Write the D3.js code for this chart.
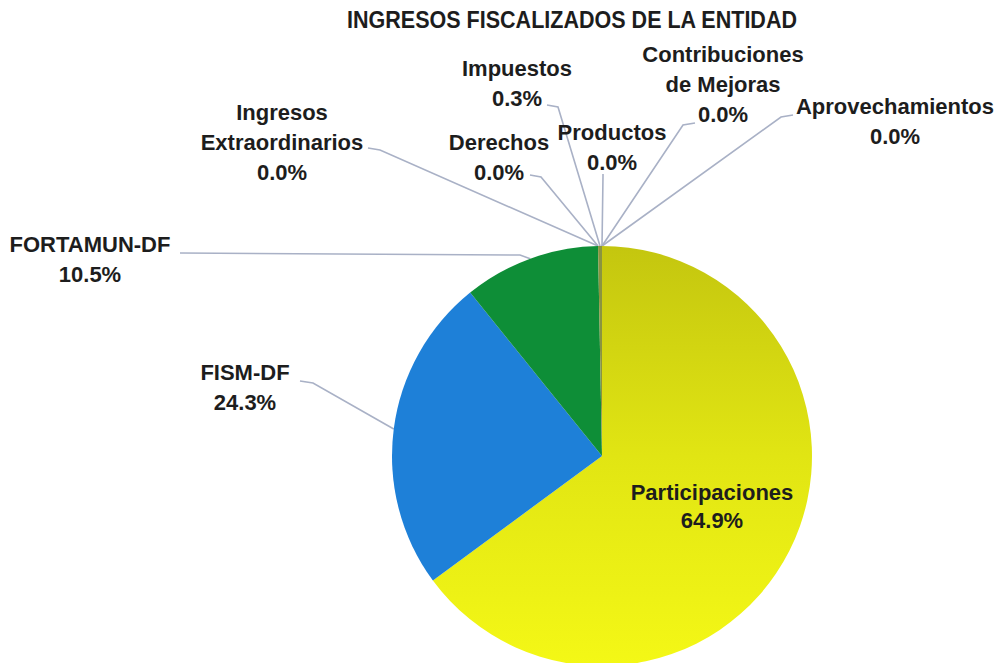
<!DOCTYPE html>
<html>
<head>
<meta charset="utf-8">
<script src="https://cdn.jsdelivr.net/npm/d3@7"></script>
<style>
  html, body { margin: 0; padding: 0; background: #ffffff; }
  svg { display: block; }
</style>
</head>
<body>
<svg id="chart" width="996" height="663"></svg>
<script>
// ---- data ----
const title = "INGRESOS FISCALIZADOS DE LA ENTIDAD";
const categories = ["Participaciones", "FISM-DF", "FORTAMUN-DF", "Ingresos Extraordinarios",
  "Derechos", "Impuestos", "Productos", "Contribuciones de Mejoras", "Aprovechamientos"];
const values = [64.9, 24.3, 10.5, 0.0, 0.0, 0.3, 0.0, 0.0, 0.0];
const labelLines = [["Participaciones"], ["FISM-DF"], ["FORTAMUN-DF"], ["Ingresos", "Extraordinarios"],
  ["Derechos"], ["Impuestos"], ["Productos"], ["Contribuciones", "de Mejoras"], ["Aprovechamientos"]];

// ---- layout / style ----
const W = 996, H = 663;
const cx = 602, cy = 456, R = 210;
const colors = {
  "Participaciones": "url(#yellowGrad)",
  "FISM-DF": "#1e80d8",
  "FORTAMUN-DF": "#0e8e37",
  "Impuestos": "#8a9440"
};
const labelLayout = {
  "Participaciones": { x: 712, y: 500, inside: true },
  "FISM-DF": { x: 245, y: 380, sx: 300, sy: 381, ex: 313, ey: 383 },
  "FORTAMUN-DF": { x: 90, y: 252, sx: 180, sy: 253, ex: 520, ey: 255 },
  "Ingresos Extraordinarios": { x: 282, y: 120, sx: 368, sy: 148, ex: 380, ey: 150 },
  "Derechos": { x: 499, y: 150, sx: 530, sy: 175, ex: 541, ey: 177 },
  "Impuestos": { x: 517, y: 76, sx: 547, sy: 105, ex: 558, ey: 107 },
  "Productos": { x: 612, y: 140, sx: 603, sy: 174, ex: 603, ey: 176 },
  "Contribuciones de Mejoras": { x: 723, y: 62, sx: 695, sy: 123, ex: 683, ey: 125 },
  "Aprovechamientos": { x: 895, y: 114, sx: 793, sy: 115, ex: 781, ey: 117 }
};
const lineGap = 30;
const fontFamily = "'Liberation Sans', Arial, Helvetica, sans-serif";
const textColor = "#1d1d1d";
const leaderColor = "#a9b1c6";

const svg = d3.select("#chart");
const defs = svg.append("defs");
const grad = defs.append("linearGradient")
  .attr("id", "yellowGrad")
  .attr("gradientUnits", "userSpaceOnUse")
  .attr("x1", 0).attr("y1", -R).attr("x2", 0).attr("y2", R);
grad.append("stop").attr("offset", 0).attr("stop-color", "#c4c60f");
grad.append("stop").attr("offset", 0.5).attr("stop-color", "#e1e513");
grad.append("stop").attr("offset", 1).attr("stop-color", "#f4f816");

// title
svg.append("text")
  .attr("x", 572).attr("y", 28)
  .attr("text-anchor", "middle")
  .attr("font-family", fontFamily)
  .attr("font-weight", "bold")
  .attr("font-size", 23)
  .attr("fill", textColor)
  .attr("textLength", 450)
  .attr("lengthAdjust", "spacingAndGlyphs")
  .text(title);

const data = categories.map((c, i) => ({ name: c, value: values[i], lines: labelLines[i] }));
const pie = d3.pie().sort(null).value(d => d.value)(data);
const arc = d3.arc().innerRadius(0).outerRadius(R);
const edge = d3.arc().innerRadius(R).outerRadius(R);

// leader lines (drawn first, beneath the pie)
const fmt = d3.format(".1f");
pie.forEach(d => {
  const L = labelLayout[d.data.name];
  if (L.inside) return;
  const [px, py] = edge.centroid(d);
  const pts = [[L.sx, L.sy], [L.ex, L.ey], [px + cx, py + cy]];
  svg.append("path")
    .attr("d", d3.line()(pts))
    .attr("fill", "none")
    .attr("stroke", leaderColor)
    .attr("stroke-width", 1.6);
});

svg.append("g").attr("transform", `translate(${cx},${cy})`)
  .selectAll("path")
  .data(pie.filter(d => d.value > 0))
  .join("path")
  .attr("d", arc)
  .attr("fill", d => colors[d.data.name] || "#8c8c8c");

// labels
pie.forEach(d => {
  const L = labelLayout[d.data.name];
  const lines = d.data.lines.concat([fmt(d.data.value) + "%"]);
  const t = svg.append("text")
    .attr("text-anchor", "middle")
    .attr("font-family", fontFamily)
    .attr("font-weight", "bold")
    .attr("font-size", 22)
    .attr("fill", textColor);
  lines.forEach((ln, i) => {
    t.append("tspan").attr("x", L.x).attr("y", L.y + i * (L.inside ? 28 : lineGap)).text(ln);
  });
});
</script>
</body>
</html>
